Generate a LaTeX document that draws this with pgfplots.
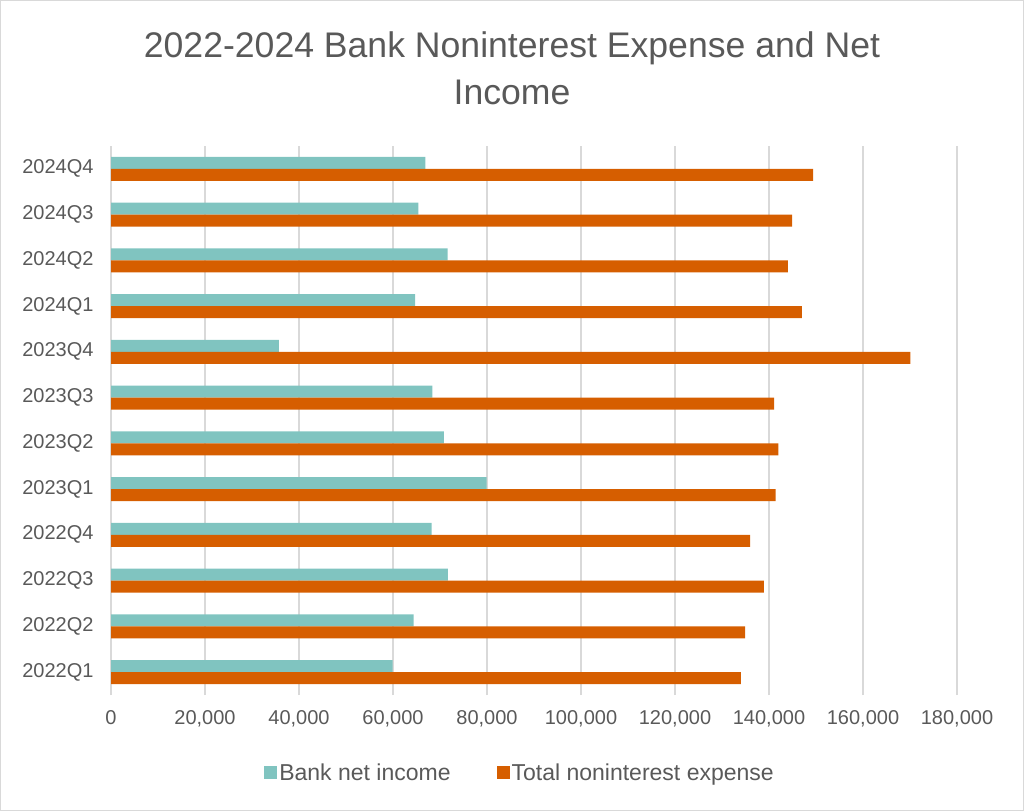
\documentclass[border=0pt]{standalone}
\usepackage{pgfplots}
\pgfplotsset{compat=1.18}
\usepackage{fontspec}
\setmainfont{Liberation Sans}
\definecolor{teal1}{RGB}{128,196,192}
\definecolor{orng}{RGB}{214,94,0}
\definecolor{txt}{RGB}{89,89,89}
\definecolor{grd}{RGB}{217,217,217}
\begin{document}
\begin{tikzpicture}[x=1pt,y=1pt]
\useasboundingbox (0,0) rectangle (1024,811);
\draw[grd] (0.5,0.5) rectangle (1023.5,810.5);
\node[text=txt, align=center, font=\fontsize{35.6}{47}\selectfont] at (512,743) {2022-2024 Bank Noninterest Expense and Net\\Income};
\begin{axis}[
  at={(111pt,116pt)}, anchor=south west,
  scale only axis, width=846pt, height=549pt,
  xbar, bar width=12pt,
  xmin=0, xmax=180000, ymin=-0.5, ymax=11.5,
  xtick={0,20000,...,180000},
  ytick={0,...,11},
  yticklabels={2022Q1,2022Q2,2022Q3,2022Q4,2023Q1,2023Q2,2023Q3,2023Q4,2024Q1,2024Q2,2024Q3,2024Q4},
  scaled x ticks=false,
  xticklabel style={/pgf/number format/fixed, /pgf/number format/precision=0, /pgf/number format/1000 sep={,}, /pgf/number format/assume math mode=true, yshift=-12pt},
  axis line style={draw=none},
  xmajorgrids, grid style={grd, line width=1.5pt},
  major tick length=0pt,
  tick label style={text=txt, font=\fontsize{20}{24}\selectfont},
  yticklabel style={xshift=-14pt},
  legend style={at={(0.4835,-0.142)}, anchor=center, draw=none, fill=none,
    legend columns=2, font=\fontsize{23}{27}\selectfont, text=txt,
    /tikz/every even column/.append style={column sep=44pt}},
  legend image code/.code={\fill[#1] (0pt,-6.5pt) rectangle (13pt,6.5pt);},
]
\draw[grd, line width=1.5pt] (axis cs:0,-0.5) -- (axis cs:0,11.5);
\addplot[fill=teal1, draw=none, bar shift=6pt] coordinates {
(59900,0) (64400,1) (71700,2) (68200,3) (79900,4) (70800,5) (68400,6) (35700,7) (64700,8) (71600,9) (65400,10) (66900,11)};
\addplot[fill=orng, draw=none, bar shift=-6pt] coordinates {
(134000,0) (134900,1) (138900,2) (136000,3) (141400,4) (142000,5) (141100,6) (170100,7) (147000,8) (144000,9) (144900,10) (149400,11)};
\legend{Bank net income, Total noninterest expense}
\end{axis}
\end{tikzpicture}
\end{document}
